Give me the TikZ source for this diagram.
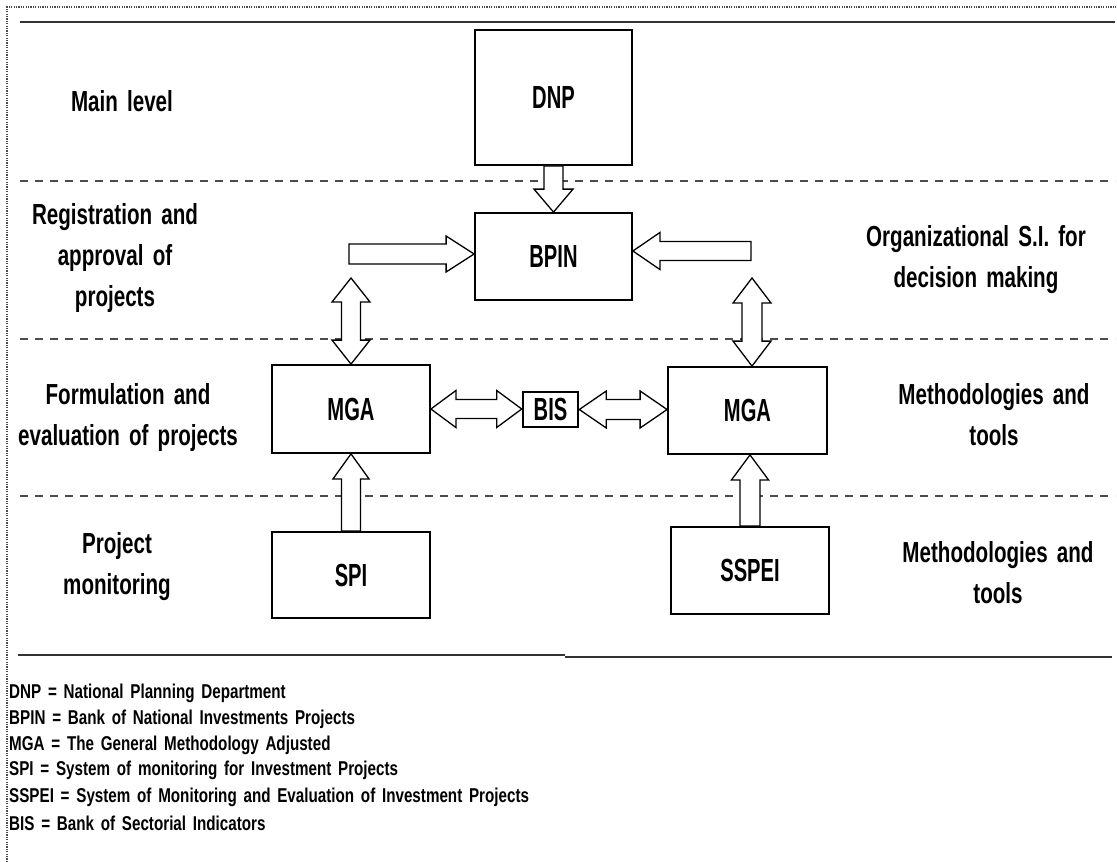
\documentclass[tikz,border=0pt]{standalone}
\usepackage{fontspec}
\setmainfont{Liberation Sans}[FakeStretch=0.71,WordSpace=1.6]
\newfontfamily\boxfont{Liberation Sans}[FakeStretch=0.63,WordSpace=1.6]
\newfontfamily\legfont{Liberation Sans}[FakeStretch=0.76,WordSpace=1.6]
\usetikzlibrary{calc}
\newcommand\vsarr[5]{%
  \draw[blk] let \p1=(#1), \p2=(#2), \n1={sign(\y2-\y1)} in
  (\x1-#3pt,\y1) -- (\x1-#3pt,\y2-\n1*#5pt) -- (\x1-#4pt,\y2-\n1*#5pt) -- (\x1,\y2)
  -- (\x1+#4pt,\y2-\n1*#5pt) -- (\x1+#3pt,\y2-\n1*#5pt) -- (\x1+#3pt,\y1) -- cycle;}
\newcommand\hsarr[5]{%
  \draw[blk] let \p1=(#1), \p2=(#2), \n1={sign(\x2-\x1)} in
  (\x1,\y1-#3pt) -- (\x2-\n1*#5pt,\y1-#3pt) -- (\x2-\n1*#5pt,\y1-#4pt) -- (\x2,\y1)
  -- (\x2-\n1*#5pt,\y1+#4pt) -- (\x2-\n1*#5pt,\y1+#3pt) -- (\x1,\y1+#3pt) -- cycle;}
\newcommand\vdarr[5]{%
  \draw[blk] let \p1=(#1), \p2=(#2), \n1={sign(\y2-\y1)} in
  (\x1,\y1) -- (\x1+#4pt,\y1+\n1*#5pt) -- (\x1+#3pt,\y1+\n1*#5pt) -- (\x1+#3pt,\y2-\n1*#5pt)
  -- (\x1+#4pt,\y2-\n1*#5pt) -- (\x1,\y2) -- (\x1-#4pt,\y2-\n1*#5pt) -- (\x1-#3pt,\y2-\n1*#5pt)
  -- (\x1-#3pt,\y1+\n1*#5pt) -- (\x1-#4pt,\y1+\n1*#5pt) -- cycle;}
\newcommand\hdarr[5]{%
  \draw[blk] let \p1=(#1), \p2=(#2), \n1={sign(\x2-\x1)} in
  (\x1,\y1) -- (\x1+\n1*#5pt,\y1+#4pt) -- (\x1+\n1*#5pt,\y1+#3pt) -- (\x2-\n1*#5pt,\y1+#3pt)
  -- (\x2-\n1*#5pt,\y1+#4pt) -- (\x2,\y1) -- (\x2-\n1*#5pt,\y1-#4pt) -- (\x2-\n1*#5pt,\y1-#3pt)
  -- (\x1+\n1*#5pt,\y1-#3pt) -- (\x1+\n1*#5pt,\y1-#4pt) -- cycle;}
\begin{document}
\begin{tikzpicture}[x=1pt,y=-1pt,
  box/.style={draw=black,line width=1.8pt,fill=white,inner sep=0pt,font=\boxfont\fontsize{32}{36}\selectfont\bfseries},
  blk/.style={draw=black,line width=1.3pt,fill=white,line join=miter},
  lbl/.style={align=center,font=\fontsize{29}{41}\selectfont\bfseries,inner sep=0pt},
  leg/.style={anchor=west,font=\legfont\fontsize{20}{22}\selectfont\bfseries,inner sep=0pt},
  sep/.style={draw=black!70,line width=1.6pt,dash pattern=on 8pt off 7pt},
  rule/.style={draw=black!80,line width=2pt}]
\useasboundingbox (0,0) rectangle (1117,862);
\fill[white] (0,0) rectangle (1117,862);
% outer dotted frame
\draw[black!70,line width=1.2pt,dash pattern=on 1.2pt off 1.2pt] (7,862) -- (7,7) -- (1117,7);
% rules
\draw[rule] (20,22) -- (1115,22);
\draw[sep] (20,181) -- (1115,181);
\draw[sep] (20,339) -- (1115,339);
\draw[sep] (20,496) -- (1115,496);
\draw[rule] (18,655) -- (565,655);
\draw[rule] (565,657) -- (1112,657);
% boxes
\node[box,minimum width=157pt,minimum height=135pt] (dnp) at (553.5,97.5) {DNP};
\node[box,minimum width=157pt,minimum height=87pt] (bpin) at (553.5,256.5) {BPIN};
\node[box,minimum width=158pt,minimum height=88pt] (mga1) at (351,409) {MGA};
\node[box,minimum width=159pt,minimum height=87pt] (mga2) at (747.5,410.5) {MGA};
\node[box,line width=2.6pt,minimum width=55pt,minimum height=35pt] (bis) at (550.5,409.5) {BIS};
\node[box,minimum width=158pt,minimum height=86pt] (spi) at (351,575) {SPI};
\node[box,minimum width=158pt,minimum height=87pt] (sspei) at (750,570.5) {SSPEI};
% free ends
\coordinate (lhtail) at (349,254);
\coordinate (rhtail) at (751,251);
\coordinate (lvtop) at (351,278);
\coordinate (rvtop) at (752,278);
% arrows
\vsarr{dnp.south}{bpin.north}{9.5}{19.5}{23}
\hsarr{lhtail}{lhtail -| bpin.west}{10}{18}{28}
\hsarr{rhtail}{rhtail -| bpin.east}{9.5}{18.5}{27}
\vdarr{lvtop}{mga1.north}{9.5}{19}{24}
\vdarr{rvtop}{rvtop |- mga2.north}{10}{19}{25}
\hdarr{mga1.east}{bis.west}{9.5}{18.5}{25}
\hdarr{bis.east}{bis.east -| mga2.west}{10}{18.5}{27}
\vsarr{spi.north}{mga1.south}{9.5}{18}{25}
\vsarr{sspei.north}{sspei.north |- mga2.south}{10}{18.5}{25}
% level labels
\node[lbl] (l1) at (122,101) {Main level};
\node[lbl] (l2) at (115,258) {Registration and\\approval of\\projects};
\node[lbl] (l3) at (128,417) {Formulation and\\evaluation of projects};
\node[lbl] (l4) at (117,567) {Project\\monitoring};
\node[lbl] (r2) at (976,260) {Organizational S.I. for\\decision making};
\node[lbl] (r3) at (994,415) {Methodologies and\\tools};
\node[lbl] (r4) at (998,573) {Methodologies and\\tools};
% legend
\node[leg] (g1) at (9,693) {DNP = National Planning Department};
\node[leg] (g2) at (9,719) {BPIN = Bank of National Investments Projects};
\node[leg] (g3) at (9,745) {MGA = The General Methodology Adjusted};
\node[leg] (g4) at (9,770) {SPI = System of monitoring for Investment Projects};
\node[leg] (g5) at (9,797) {SSPEI = System of Monitoring and Evaluation of Investment Projects};
\node[leg] (g6) at (9,823) {BIS = Bank of Sectorial Indicators};
\end{tikzpicture}
\end{document}
